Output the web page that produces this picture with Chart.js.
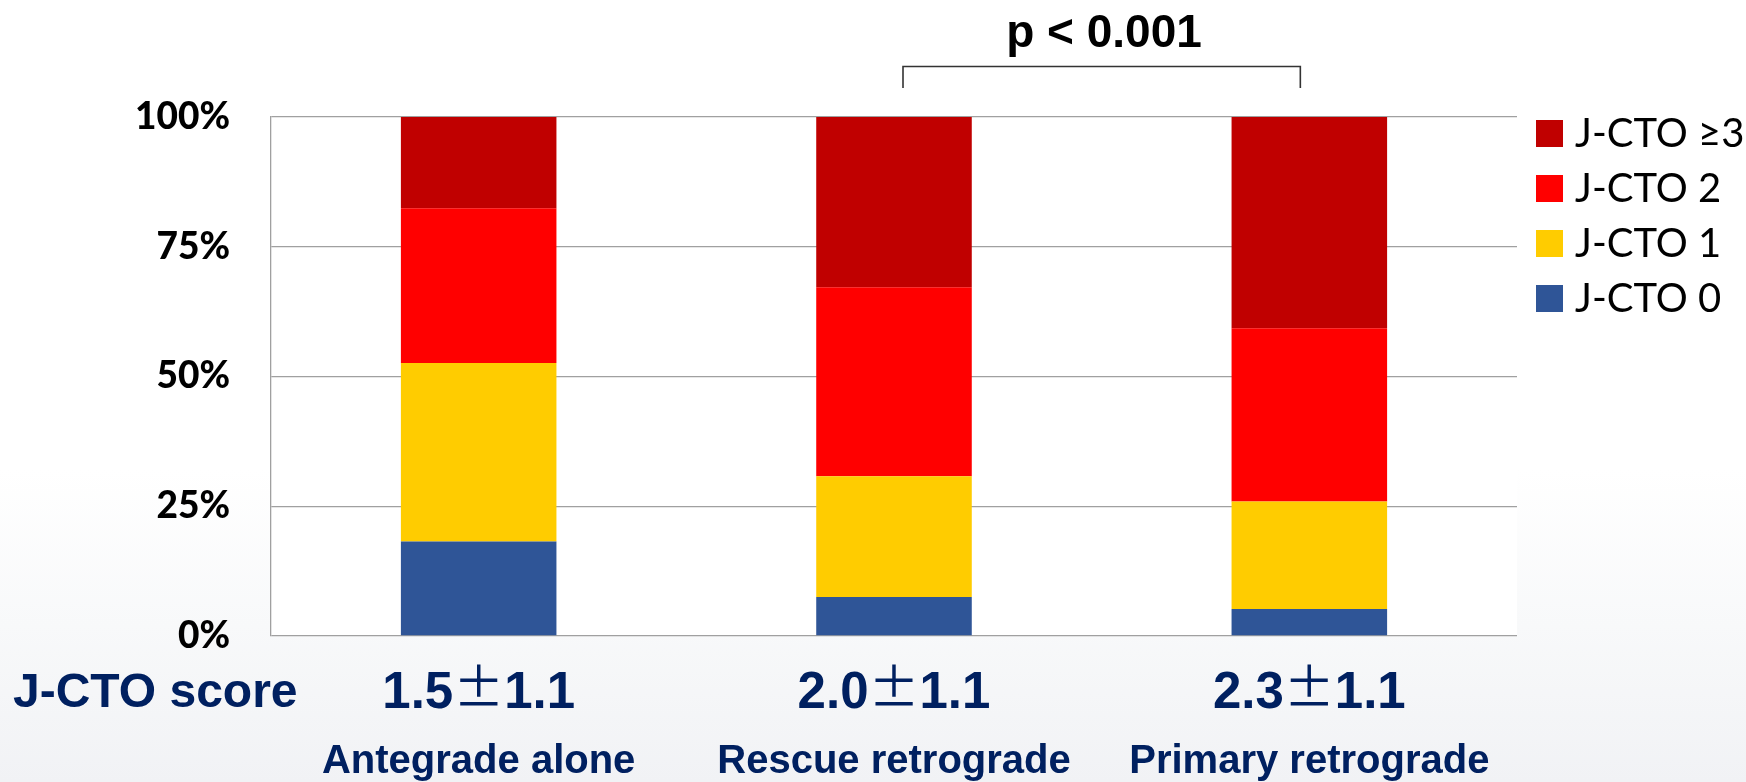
<!DOCTYPE html>
<html>
<head>
<meta charset="utf-8">
<script src="https://cdn.jsdelivr.net/npm/chart.js@4.4.1/dist/chart.umd.min.js"></script>
<style>
  html, body { margin: 0; padding: 0; }
  body {
    width: 1746px; height: 782px; overflow: hidden;
    background: linear-gradient(to bottom, #ffffff 0%, #ffffff 60%, #f8f9fa 80%, #f1f2f5 100%);
  }
  canvas { display: block; }
</style>
</head>
<body>
<canvas id="chart" width="1746" height="782"></canvas>
<script>
// Groups along the x axis
const groups = ['Antegrade alone', 'Rescue retrograde', 'Primary retrograde'];
// Mean J-CTO score and SD for each group
const scoreMean = ['1.5', '2.0', '2.3'];
const scoreSd = ['1.1', '1.1', '1.1'];

// Share of lesions (%) in each J-CTO class, per group
const jcto0 = [18.2, 7.5, 5.2];
const jcto1 = [34.4, 23.3, 20.7];
const jcto2 = [29.8, 36.4, 33.4];
const jcto3plus = [17.6, 32.8, 40.7];

const seriesLabels = ['J-CTO 0', 'J-CTO 1', 'J-CTO 2', 'J-CTO \u22653'];
const seriesColors = ['#2F5597', '#FFCC00', '#FF0000', '#C00000'];

// Y axis tick values
const yTicks = [0, 25, 50, 75, 100];

const pLabel = 'p < 0.001';
const rowTitle = 'J-CTO score';

const NAVY = '#002060';
const SANS = '"Liberation Sans", Arial, sans-serif';

// White plot background
const plotFill = {
  id: 'plotFill',
  beforeDraw(chart) {
    const { ctx, chartArea: a } = chart;
    ctx.save();
    ctx.fillStyle = '#ffffff';
    ctx.fillRect(a.left, a.top, a.right - a.left, a.bottom - a.top);
    ctx.restore();
  }
};

// Legend, score row, group labels and the significance bracket
const annotations = {
  id: 'annotations',
  afterDraw(chart) {
    const { ctx } = chart;
    const x = chart.scales.x;
    ctx.save();

    // legend, top entry = last series
    ctx.textAlign = 'left';
    ctx.textBaseline = 'alphabetic';
    ctx.font = '40px Lato, sans-serif';
    const lx = 1536, ly = 120, box = 27, step = 55;
    for (let k = 0; k < seriesLabels.length; k++) {
      const i = seriesLabels.length - 1 - k;
      const top = ly + k * step;
      ctx.fillStyle = seriesColors[i];
      ctx.fillRect(lx, top, box, box);
      ctx.fillStyle = '#000000';
      ctx.fillText(seriesLabels[i], lx + 39, top + box);
    }

    // row title
    ctx.fillStyle = NAVY;
    ctx.font = 'bold 48px ' + SANS;
    ctx.fillText(rowTitle, 13, 707);

    // mean ± SD under each bar
    const numFont = 'bold 51px ' + SANS;
    const pmFont = '51px "Noto Sans CJK JP", sans-serif';
    for (let i = 0; i < groups.length; i++) {
      const cx = x.getPixelForValue(i);
      ctx.font = numFont;
      const w1 = ctx.measureText(scoreMean[i]).width;
      const w3 = ctx.measureText(scoreSd[i]).width;
      ctx.font = pmFont;
      const w2 = ctx.measureText('\u00B1').width;
      let sx = cx - (w1 + w2 + w3) / 2;
      ctx.font = numFont;
      ctx.fillText(scoreMean[i], sx, 708);
      ctx.font = pmFont;
      ctx.fillText('\u00B1', sx + w1, 706);
      ctx.font = numFont;
      ctx.fillText(scoreSd[i], sx + w1 + w2, 708);
    }

    // group names
    ctx.textAlign = 'center';
    ctx.font = 'bold 40px ' + SANS;
    for (let i = 0; i < groups.length; i++) {
      ctx.fillText(groups[i], x.getPixelForValue(i), 773);
    }

    // bracket between the two retrograde groups
    const bx1 = x.getPixelForValue(1) + 9;
    const bx2 = x.getPixelForValue(2) - 9;
    ctx.strokeStyle = '#333333';
    ctx.lineWidth = 1.6;
    ctx.beginPath();
    ctx.moveTo(bx1, 88);
    ctx.lineTo(bx1, 66.5);
    ctx.lineTo(bx2, 66.5);
    ctx.lineTo(bx2, 88);
    ctx.stroke();

    ctx.fillStyle = '#000000';
    ctx.font = 'bold 46px ' + SANS;
    ctx.fillText(pLabel, 1104, 47);

    ctx.restore();
  }
};

const seriesData = [jcto0, jcto1, jcto2, jcto3plus];

function build() {
  new Chart(document.getElementById('chart'), {
    type: 'bar',
    data: {
      labels: groups,
      datasets: seriesLabels.map((label, i) => ({
        label,
        data: seriesData[i],
        backgroundColor: seriesColors[i],
        borderWidth: 0,
        categoryPercentage: 1,
        barPercentage: 0.3745
      }))
    },
    options: {
      responsive: false,
      animation: false,
      devicePixelRatio: 1,
      layout: { padding: { left: 0, top: 117, right: 229, bottom: 146 } },
      plugins: {
        legend: { display: false },
        tooltip: { enabled: false }
      },
      scales: {
        x: {
          stacked: true,
          display: false
        },
        y: {
          stacked: true,
          min: 0,
          max: 100,
          afterFit(scale) { scale.width = 271; },
          afterBuildTicks(scale) { scale.ticks = yTicks.map(v => ({ value: v })); },
          ticks: {
            padding: 41,
            color: '#000000',
            font: { family: 'Lato, sans-serif', weight: 900, size: 37 },
            callback: v => v + '%'
          },
          grid: { color: '#a0a0a0', lineWidth: 1.3, drawTicks: false },
          border: { display: true, color: '#a0a0a0', width: 1.3 }
        }
      }
    },
    plugins: [plotFill, annotations]
  });
}

const fontLoads = [
  '900 37px Lato', '40px Lato', 'bold 46px "Liberation Sans"', '51px "Noto Sans CJK JP"'
].map(f => document.fonts.load(f, '0%J±'));
Promise.all(fontLoads).then(build, build);
</script>
</body>
</html>
